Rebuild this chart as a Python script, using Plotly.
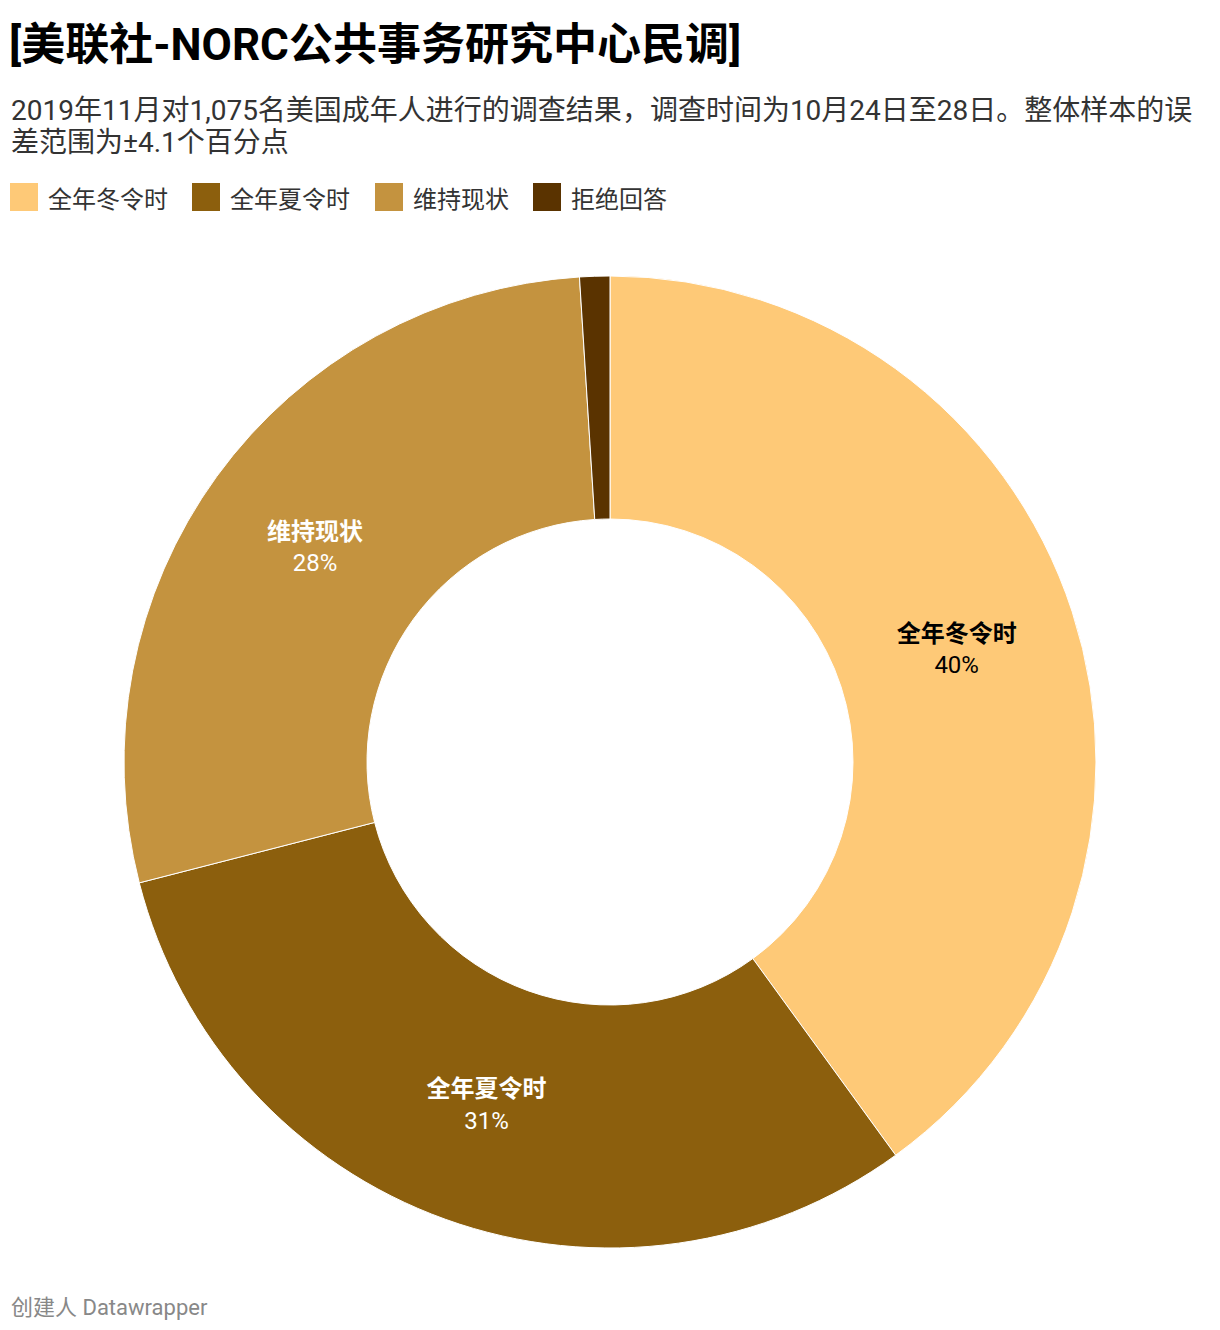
import plotly.graph_objects as go

# data
labels = ["全年冬令时", "全年夏令时", "维持现状", "拒绝回答"]
values = [40, 31, 28, 1]
colors = ["#fec977", "#8c5f0d", "#c4933f", "#5a3300"]
text_colors = ["#000000", "#ffffff", "#ffffff", "#ffffff"]
show_label = [True, True, True, False]

title = "[美联社-NORC公共事务研究中心民调]"
subtitle_lines = [
    "2019年11月对1,075名美国成年人进行的调查结果，调查时间为10月24日至28日。整体样本的误",
    "差范围为±4.1个百分点",
]
source = "创建人 Datawrapper"

W, H = 1220, 1330
OFF = 8  # page offset of the screenshot
ML, MR, MT, MB = 116, 132, 268, 90
FONT = "Roboto, 'Noto Sans CJK SC', sans-serif"


def px2x(px):
    return (px - OFF - ML) / (W - ML - MR)


def py2y(py):
    return (H - MB - (py - OFF)) / (H - MT - MB)


texts = [
    f"<b>{l}</b><br>{v}%" if s else ""
    for l, v, s in zip(labels, values, show_label)
]

fig = go.Figure()
fig.add_trace(go.Pie(
    labels=labels,
    values=values,
    text=texts,
    textinfo="text",
    textposition="inside",
    insidetextorientation="horizontal",
    insidetextfont=dict(color=text_colors, size=24, family=FONT),
    hole=0.5,
    sort=False,
    direction="clockwise",
    rotation=0,
    marker=dict(colors=colors, line=dict(color="#ffffff", width=1)),
    showlegend=False,
))

annotations = []
for i, line in enumerate(subtitle_lines):
    annotations.append(dict(text=line, x=px2x(9), y=py2y(110 + 33 * i), xref="paper", yref="paper",
                            xanchor="left", yanchor="middle", align="left", showarrow=False,
                            font=dict(size=28, color="#333333", family=FONT)))
annotations.append(dict(text=source, x=px2x(9), y=py2y(1307), xref="paper", yref="paper",
                        xanchor="left", yanchor="middle", showarrow=False,
                        font=dict(size=22, color="#888888", family=FONT)))
shapes = []

# custom legend
legend_x = [10, 192, 375, 533]
for lx, lab, col in zip(legend_x, labels, colors):
    shapes.append(dict(type="rect", xref="paper", yref="paper",
                       x0=px2x(lx), x1=px2x(lx + 28), y0=py2y(211), y1=py2y(183),
                       fillcolor=col, line=dict(width=0)))
    annotations.append(dict(text=lab, x=px2x(lx + 36), y=py2y(200), xref="paper", yref="paper",
                            xanchor="left", yanchor="middle", showarrow=False,
                            font=dict(size=24, color="#333333", family=FONT)))

fig.update_layout(
    width=W, height=H,
    margin=dict(l=ML, r=MR, t=MT, b=MB),
    paper_bgcolor="#ffffff",
    plot_bgcolor="#ffffff",
    font=dict(family=FONT),
    title=dict(text="<b>" + title + "</b>", x=(9 - OFF) / W, xref="container", xanchor="left",
               y=1 - (45 - OFF) / H, yref="container", yanchor="middle",
               font=dict(size=44, color="#000000", family=FONT)),
    annotations=annotations,
    shapes=shapes,
)

fig.write_html("out.html")
